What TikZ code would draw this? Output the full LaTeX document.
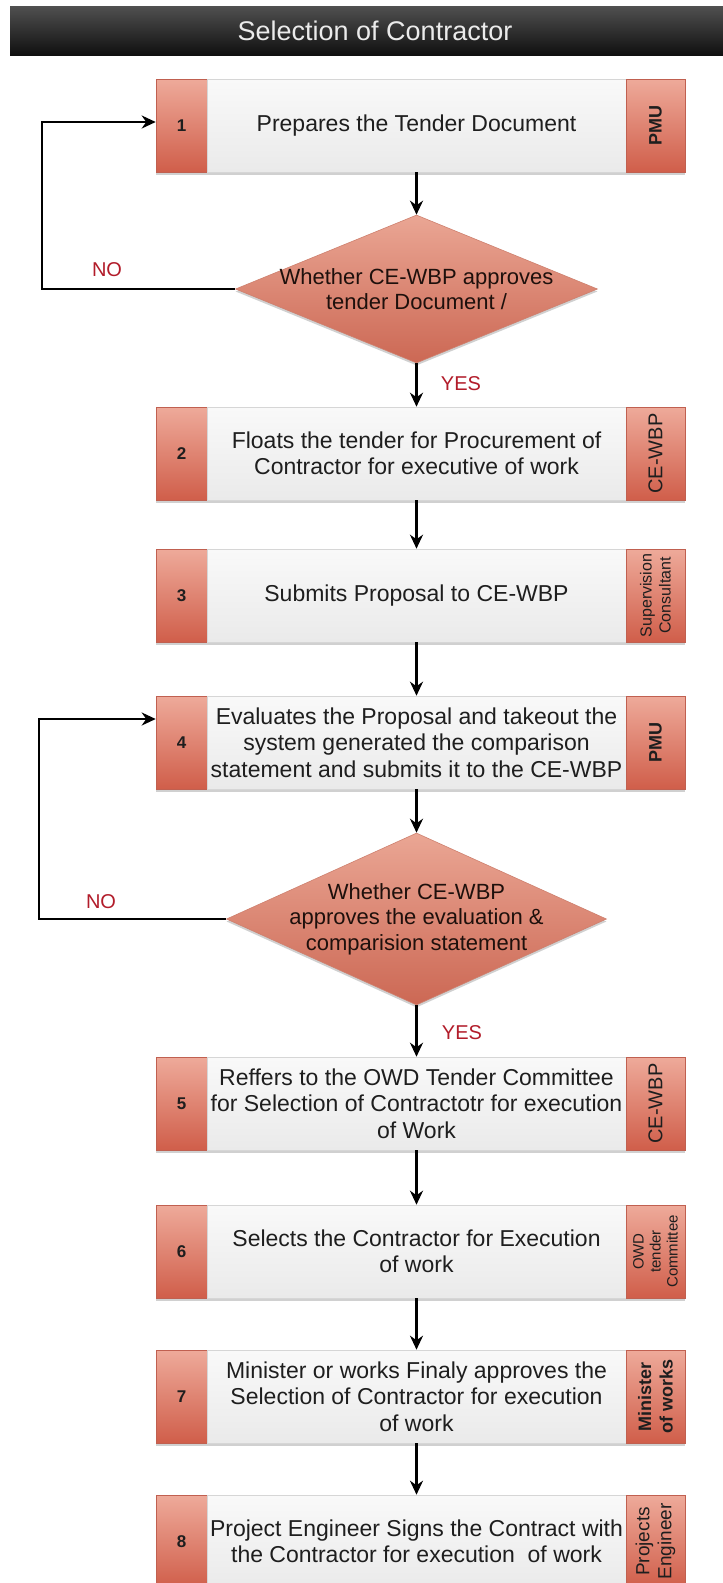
\documentclass[tikz,border=0pt]{standalone}
\usepackage{fontspec}
\setmainfont{Liberation Sans}
\usetikzlibrary{arrows.meta,shapes.geometric,shadows}
\definecolor{stripTop}{RGB}{238,170,154}
\definecolor{stripBot}{RGB}{208,94,74}
\definecolor{stripLine}{RGB}{192,96,80}
\definecolor{boxTop}{RGB}{249,249,249}
\definecolor{boxBot}{RGB}{234,234,234}
\definecolor{boxLine}{RGB}{214,214,214}
\definecolor{diaTop}{RGB}{234,166,148}
\definecolor{diaBot}{RGB}{204,104,84}
\definecolor{diaLine}{RGB}{206,128,110}
\definecolor{noRed}{RGB}{178,28,42}
\definecolor{hdrTop}{RGB}{80,80,80}
\definecolor{hdrBot}{RGB}{16,16,16}
\definecolor{textDark}{RGB}{30,30,30}
\newcommand\flowrow[6]{%
  \node[numstrip] (n#1) at (181.5,#2) {#3};
  \node[mainbox] (b#1) at (416.5,#2) {#4};
  \node[sidestrip] (s#1) at (655.5,#2) {};
  \node[sidetext,font=#6] (t#1) at (s#1.center) {#5};
}
\begin{document}
\begin{tikzpicture}[x=1pt,y=-1pt,
  softshadow/.style={drop shadow={shadow xshift=0pt,shadow yshift=-2.5pt,opacity=.3,fill=black!60}},
  numstrip/.style={draw=stripLine,line width=.6pt,top color=stripTop,bottom color=stripBot,
    minimum width=51pt,minimum height=93pt,inner sep=0pt,softshadow,
    text=textDark,font=\fontsize{17}{19}\selectfont\bfseries},
  sidestrip/.style={draw=stripLine,line width=.6pt,top color=stripTop,bottom color=stripBot,
    minimum width=59pt,minimum height=93pt,inner sep=0pt,softshadow},
  mainbox/.style={draw=boxLine,line width=.6pt,top color=boxTop,bottom color=boxBot,
    minimum width=419pt,minimum height=93pt,inner sep=0pt,softshadow,align=center,
    text=textDark,font=\fontsize{23}{26.5}\selectfont},
  sidetext/.style={rotate=90,align=center,inner sep=0pt,text=textDark},
  decision/.style={diamond,draw=diaLine,line width=.6pt,top color=diaTop,bottom color=diaBot,
    inner sep=0pt,softshadow},
  dtext/.style={align=center,inner sep=0pt,text={rgb,255:red,30;green,16;blue,12},
    font=\fontsize{22}{25.5}\selectfont},
  answer/.style={inner sep=0pt,text=noRed,font=\fontsize{20}{22}\selectfont},
  arr/.style={draw=black,line width=2.6pt,-{Stealth[length=14pt,width=13pt]}},
  headerbar/.style={top color=hdrTop,bottom color=hdrBot,minimum width=713pt,minimum height=49pt,inner sep=0pt},
  titletext/.style={text={rgb,255:red,235;green,235;blue,235},font=\fontsize{27}{30}\selectfont,inner sep=0pt}
]
\useasboundingbox (0,0) rectangle (723,1583);
\clip (0,0) rectangle (723,1583);
\fill[white] (0,0) rectangle (723,1583);

% header
\node[headerbar] (hdr) at (366.5,30.5) {};
\node[titletext] (title) at (375,31) {Selection of Contractor};

% steps
\flowrow{1}{125.5}{1}{Prepares the Tender Document}{PMU}{\fontsize{18}{20}\selectfont\bfseries}
\flowrow{2}{453.5}{2}{Floats the tender for Procurement of\\Contractor for executive of work}{CE-WBP}{\fontsize{20}{22}\selectfont}
\flowrow{3}{595.5}{3}{Submits Proposal to CE-WBP}{Supervision\\Consultant}{\fontsize{16}{19}\selectfont}
\flowrow{4}{742.5}{4}{Evaluates the Proposal and takeout the\\system generated the comparison\\statement and submits it to the CE-WBP}{PMU}{\fontsize{18}{20}\selectfont\bfseries}
\flowrow{5}{1103.5}{5}{Reffers to the OWD Tender Committee\\for Selection of Contractotr for execution\\of Work}{CE-WBP}{\fontsize{20}{22}\selectfont}
\flowrow{6}{1251.5}{6}{Selects the Contractor for Execution\\of work}{OWD\\tender\\Committee}{\fontsize{15}{17}\selectfont}
\flowrow{7}{1396.5}{7}{Minister or works Finaly approves the\\Selection of Contractor for execution\\of work}{Minister\\of works}{\fontsize{18}{21.5}\selectfont\bfseries}
\flowrow{8}{1541.5}{8}{Project Engineer Signs the Contract with\\the Contractor for execution\ \ of work}{Projects\\Engineer}{\fontsize{19}{22}\selectfont}

% decisions
\node[decision,minimum width=362pt,minimum height=148pt] (d1) at (416.5,289) {};
\node[dtext] (q1) at (d1.center) {Whether CE-WBP approves\\tender Document /};
\node[decision,minimum width=380pt,minimum height=172pt] (d2) at (416.5,919) {};
\node[dtext] (q2) at (d2.center) {Whether CE-WBP\\approves the evaluation \&\\comparision statement};

% answers
\node[answer] (no1) at (107,270) {NO};
\node[answer] (yes1) at (461,384) {YES};
\node[answer] (no2) at (101,902) {NO};
\node[answer] (yes2) at (462,1033) {YES};

% loop corners
\coordinate (c1) at (42,289);
\coordinate (c2) at (39,919);

% connectors
\draw[arr] (b1.south) -- (d1.north);
\draw[arr] (d1.south) -- (b2.north);
\draw[arr] (b2.south) -- (b3.north);
\draw[arr] (b3.south) -- (b4.north);
\draw[arr] (b4.south) -- (d2.north);
\draw[arr] (d2.south) -- (b5.north);
\draw[arr] (b5.south) -- (b6.north);
\draw[arr] (b6.south) -- (b7.north);
\draw[arr] (b7.south) -- (b8.north);
\draw[arr] (d1.west) -- (c1) |- ([yshift=3.5pt]n1.west);
\draw[arr] (d2.west) -- (c2) |- ([yshift=23.5pt]n4.west);
\end{tikzpicture}
\end{document}
